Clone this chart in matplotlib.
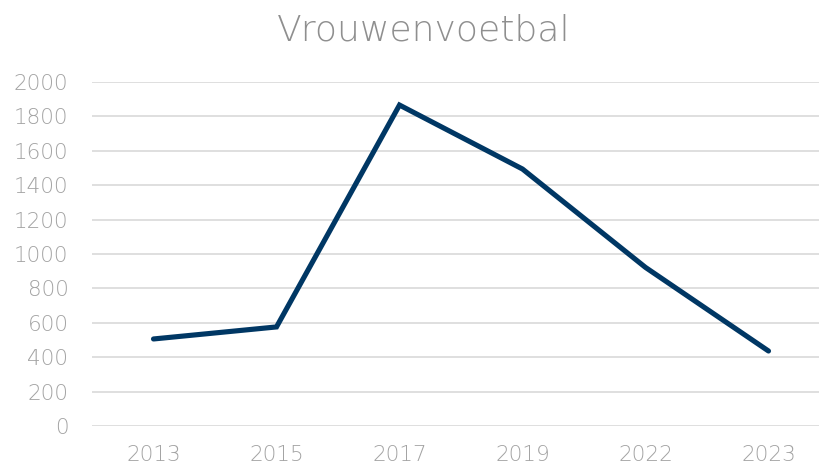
import matplotlib
matplotlib.use("Agg")
import matplotlib.pyplot as plt

# data
years = ["2013", "2015", "2017", "2019", "2022", "2023"]
counts = [506, 576, 1866, 1494, 922, 436]
yticks = list(range(0, 2001, 200))

grey = "#a3a3a3"
navy = "#003764"

fig = plt.figure(figsize=(8.19, 4.67), dpi=100)
ax = fig.add_axes([92 / 819, 41 / 467, 738 / 819, 344 / 467])

x = range(len(years))
ax.plot(x, counts, color=navy, linewidth=3.7, solid_capstyle="round",
        solid_joinstyle="miter", zorder=3)

ax.set_xlim(-0.5, len(years) - 0.5)
ax.set_ylim(0, 2000)
ax.set_xticks(list(x))
ax.set_xticklabels(years)
ax.set_yticks(yticks)
ax.yaxis.grid(True, color="#d9d9d9", linewidth=1.2)
ax.set_axisbelow(True)
for s in ax.spines.values():
    s.set_visible(False)
ax.tick_params(length=0, labelsize=15.5, labelcolor=grey, pad=14)
ax.tick_params(axis="y", pad=17)
for lab in ax.get_xticklabels() + ax.get_yticklabels():
    lab.set_family("DejaVu Sans")
    lab.set_weight("light")

fig.text(0.517, 0.935, "Vrouwenvoetbal", ha="center", va="center",
         fontsize=26, color="#8f8f8f", family="DejaVu Sans", weight="light")

fig.savefig("out.png", dpi=100)
